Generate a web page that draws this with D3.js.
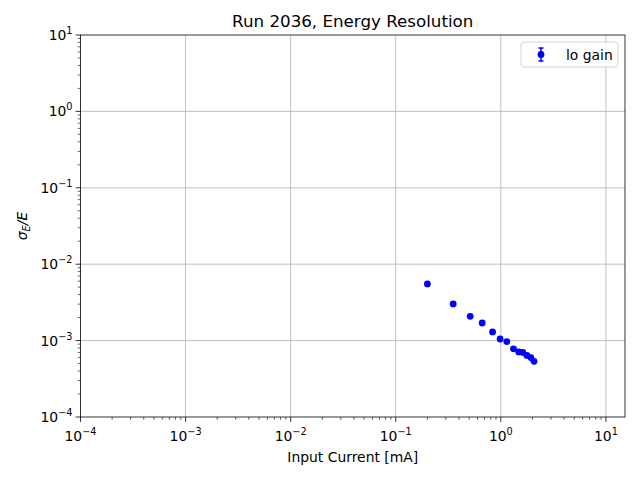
<!DOCTYPE html>
<html>
<head>
<meta charset="utf-8">
<script src="https://cdn.jsdelivr.net/npm/d3@7"></script>
<style>
  body { margin: 0; background: #fff; }
  text { font-family: "DejaVu Sans", sans-serif; fill: #000; }
</style>
</head>
<body>
<div id="chart"></div>
<script>
// values
var current = [0.2, 0.352, 0.511, 0.665, 0.835, 0.985, 1.14, 1.32, 1.48, 1.62, 1.77, 1.93, 2.07]
var resolution = [0.00552, 0.00302, 0.00208, 0.0017, 0.0013, 0.00105, 0.00097, 0.00078, 0.00071, 0.0007, 0.00064, 0.0006, 0.000536]
var xTicks = [1e-4, 1e-3, 1e-2, 1e-1, 1e0, 1e1]
var yTicks = [1e-4, 1e-3, 1e-2, 1e-1, 1e0, 1e1]

var width = 640, height = 480
var margin = {left: 80.5, right: 15, top: 35, bottom: 63}

var svg = d3.select('#chart').append('svg')
  .attr("width", width)
  .attr("height", height)

var x = d3.scaleLog()
  .domain([1e-4, 15.2])
  .range([margin.left, width - margin.right])

var y = d3.scaleLog()
  .domain([1e-4, 1e1])
  .range([height - margin.bottom, margin.top])

var x0 = x.range()[0], x1 = x.range()[1]
var y0 = y.range()[0], y1 = y.range()[1]

// grid
svg.append("g").selectAll("line")
  .data(xTicks.filter(function (d) { return d > 1e-4 }))
  .enter().append("line")
  .attr("x1", function (d) { return x(d) }).attr("x2", function (d) { return x(d) })
  .attr("y1", y0).attr("y2", y1)
  .attr("stroke", "#b0b0b0").attr("stroke-width", 0.8)

svg.append("g").selectAll("line")
  .data(yTicks.filter(function (d) { return d > 1e-4 && d < 1e1 }))
  .enter().append("line")
  .attr("y1", function (d) { return y(d) }).attr("y2", function (d) { return y(d) })
  .attr("x1", x0).attr("x2", x1)
  .attr("stroke", "#b0b0b0").attr("stroke-width", 0.8)

// minor ticks
function minors(lo, hi) {
  var out = []
  for (var e = -5; e <= 2; e++) {
    for (var m = 2; m <= 9; m++) {
      var v = m * Math.pow(10, e)
      if (v >= lo && v <= hi) out.push(v)
    }
  }
  return out
}

svg.append("g").selectAll("line")
  .data(minors(1e-4, 15.2))
  .enter().append("line")
  .attr("x1", function (d) { return x(d) }).attr("x2", function (d) { return x(d) })
  .attr("y1", y0).attr("y2", y0 + 2.8)
  .attr("stroke", "#000").attr("stroke-width", 0.6)

svg.append("g").selectAll("line")
  .data(minors(1e-4, 1e1))
  .enter().append("line")
  .attr("y1", function (d) { return y(d) }).attr("y2", function (d) { return y(d) })
  .attr("x1", x0).attr("x2", x0 - 2.8)
  .attr("stroke", "#000").attr("stroke-width", 0.6)

// major ticks + labels
function label(sel, d) {
  var exp = Math.round(Math.log10(d))
  sel.append("tspan").text("10")
  sel.append("tspan").text(exp < 0 ? "\u2212" + (-exp) : exp)
    .attr("dy", -6).attr("font-size", "9.7px")
}

var xt = svg.append("g").selectAll("g")
  .data(xTicks).enter().append("g")
xt.append("line")
  .attr("x1", function (d) { return x(d) }).attr("x2", function (d) { return x(d) })
  .attr("y1", y0).attr("y2", y0 + 4.9)
  .attr("stroke", "#000").attr("stroke-width", 0.8)
xt.append("text")
  .attr("x", function (d) { return x(d) })
  .attr("y", y0 + 24)
  .attr("text-anchor", "middle")
  .attr("font-size", "13.9px")
  .each(function (d) { label(d3.select(this), d) })

var yt = svg.append("g").selectAll("g")
  .data(yTicks).enter().append("g")
yt.append("line")
  .attr("y1", function (d) { return y(d) }).attr("y2", function (d) { return y(d) })
  .attr("x1", x0).attr("x2", x0 - 4.9)
  .attr("stroke", "#000").attr("stroke-width", 0.8)
yt.append("text")
  .attr("x", x0 - 8)
  .attr("y", function (d) { return y(d) + 5 })
  .attr("text-anchor", "end")
  .attr("font-size", "13.9px")
  .each(function (d) { label(d3.select(this), d) })

// frame
svg.append("rect")
  .attr("x", x0).attr("y", y1)
  .attr("width", x1 - x0).attr("height", y0 - y1)
  .attr("fill", "none").attr("stroke", "#000").attr("stroke-width", 0.8)

// points
svg.append("g").selectAll("circle")
  .data(current)
  .enter().append("circle")
  .attr("cx", function (d) { return x(d) })
  .attr("cy", function (d, i) { return y(resolution[i]) })
  .attr("r", 3.4)
  .attr("fill", "#0000ff")

// title and axis labels
svg.append("text")
  .attr("x", (x0 + x1) / 2).attr("y", 27)
  .attr("text-anchor", "middle")
  .attr("font-size", "16.7px")
  .text("Run 2036, Energy Resolution")

svg.append("text")
  .attr("x", (x0 + x1) / 2).attr("y", 462)
  .attr("text-anchor", "middle")
  .attr("font-size", "13.9px")
  .text("Input Current [mA]")

var yl = svg.append("text")
  .attr("transform", "translate(27," + ((y0 + y1) / 2) + ") rotate(-90)")
  .attr("text-anchor", "middle")
  .attr("font-size", "13.9px")
  .attr("font-style", "italic")
yl.append("tspan").text("\u03c3")
yl.append("tspan").text("E").attr("font-size", "9.7px").attr("dy", 3)
yl.append("tspan").text("/E").attr("dy", -3)

// legend
var lg = svg.append("g").attr("transform", "translate(521,42)")
lg.append("rect")
  .attr("width", 97).attr("height", 25).attr("rx", 3)
  .attr("fill", "#fff").attr("fill-opacity", 0.8)
  .attr("stroke", "#cccccc").attr("stroke-width", 0.8)
lg.append("line")
  .attr("x1", 20).attr("x2", 20).attr("y1", 6).attr("y2", 19)
  .attr("stroke", "#0000ff").attr("stroke-width", 1.5)
lg.append("line")
  .attr("x1", 17.5).attr("x2", 22.5).attr("y1", 6).attr("y2", 6)
  .attr("stroke", "#0000ff").attr("stroke-width", 1.5)
lg.append("line")
  .attr("x1", 17.5).attr("x2", 22.5).attr("y1", 19).attr("y2", 19)
  .attr("stroke", "#0000ff").attr("stroke-width", 1.5)
lg.append("circle")
  .attr("cx", 20).attr("cy", 12.5).attr("r", 3.4).attr("fill", "#0000ff")
lg.append("text")
  .attr("x", 45).attr("y", 17.5)
  .attr("font-size", "13.9px")
  .text("lo gain")
</script>
</body>
</html>
